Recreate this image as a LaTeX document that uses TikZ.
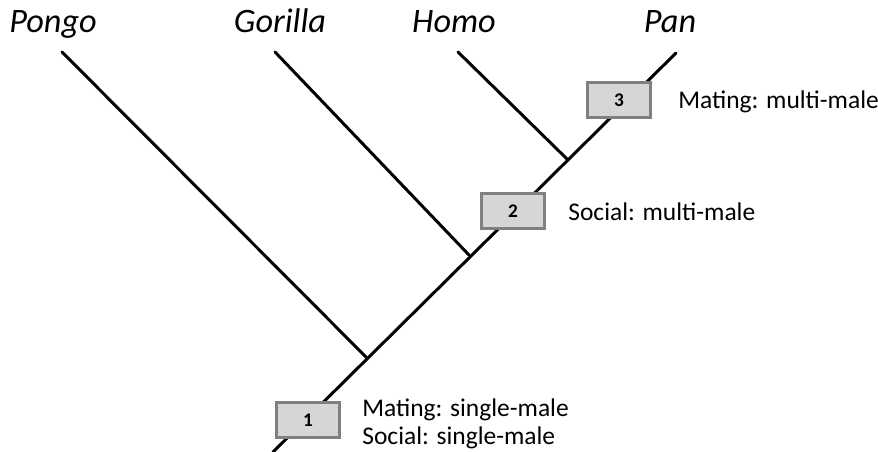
\documentclass[tikz,border=0pt]{standalone}
\usepackage{fontspec}
\setmainfont{Carlito}
\usepackage{tikz}
\usetikzlibrary{positioning}

\begin{document}
\begin{tikzpicture}[
  x=0.02cm, y=-0.02cm,
  every node/.style={inner sep=0pt},
  branch/.style={line width=1.7pt, line cap=round},
  taxon/.style={font=\fontsize{19.5}{22}\selectfont\itshape, anchor=base},
  trait/.style={font=\fontsize{14.5}{16}\selectfont, align=left, anchor=west},
  numbox/.style={draw=black!50, line width=1.2pt, fill=black!16,
                 minimum width=1.26cm, minimum height=0.7cm,
                 font=\fontsize{11}{13}\selectfont\bfseries},
]
  \useasboundingbox (0,0) rectangle (878,452);

  % tips and splits
  \coordinate (root)  at (273,452);
  \coordinate (jpon)  at (367,358);
  \coordinate (jgor)  at (469,255);
  \coordinate (jhom)  at (567,159);
  \coordinate (tpon)  at (62,52);
  \coordinate (tgor)  at (275,52);
  \coordinate (thom)  at (458,52);
  \coordinate (tpan)  at (676,53);

  \node[taxon] (pongo)   at (53,33)  {Pongo};
  \node[taxon] (gorilla) at (280,33) {Gorilla};
  \node[taxon] (homo)    at (454,33) {Homo};
  \node[taxon] (pan)     at (670,33) {Pan};

  \draw[branch] (root) -- (tpan);
  \draw[branch] (tpon) -- (jpon);
  \draw[branch] (tgor) -- (jgor);
  \draw[branch] (thom) -- (jhom);

  \node[numbox] (b1) at (308,420) {1};
  \node[numbox] (b2) at (513,211) {2};
  \node[numbox] (b3) at (619,100) {3};

  \node[trait] (t1) at (362,424) {Mating: single-male\\Social: single-male};
  \node[trait] (t2) at (568,212) {Social: multi-male};
  \node[trait] (t3) at (678,102) {Mating: multi-male};
\end{tikzpicture}
\end{document}
